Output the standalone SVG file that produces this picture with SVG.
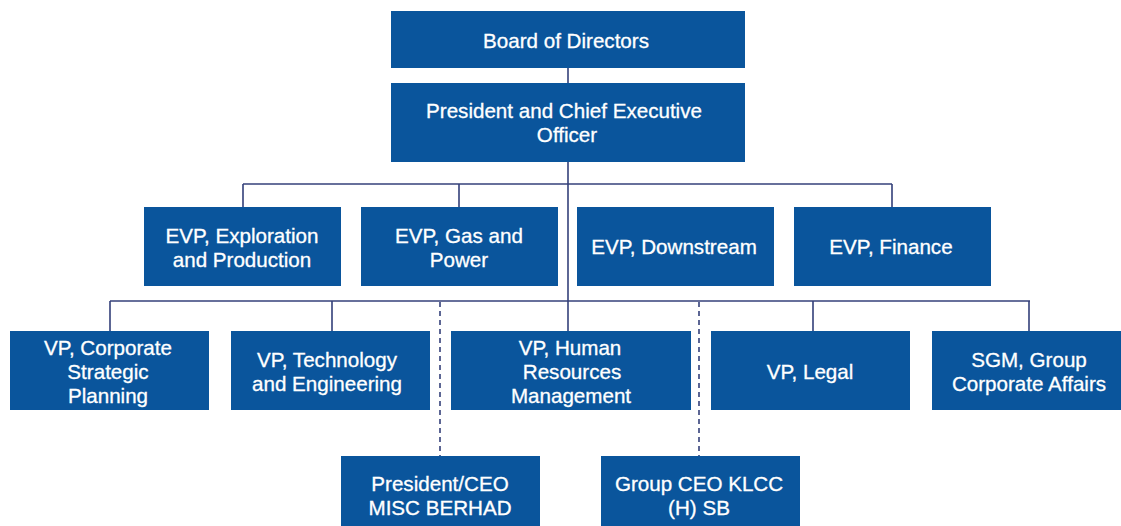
<svg xmlns="http://www.w3.org/2000/svg" width="1121" height="526" viewBox="0 0 1121 526">
  <style>
    .box { fill: #0a559c; }
    .lbl { fill: #ffffff; stroke: #ffffff; stroke-width: 0.3; font-family: "Liberation Sans", Arial, sans-serif; font-size: 20.6px; text-anchor: middle; }
    .ln { stroke: #34407a; stroke-width: 1.6; fill: none; }
    .dash { stroke: #34407a; stroke-width: 1.6; fill: none; stroke-dasharray: 5 4; }
  </style>
  <rect width="1121" height="526" fill="#ffffff"/>

  <g id="connectors">
    <path class="ln" d="M568 68 V83"/>
    <path class="ln" d="M568 162 V331"/>
    <path class="ln" d="M243 184 H892"/>
    <path class="ln" d="M243 184 V207 M459 184 V207 M892 184 V207"/>
    <path class="ln" d="M110 301 H1030"/>
    <path class="ln" d="M110 301 V331 M332 301 V331 M813 301 V331 M1029 301 V331"/>
    <path class="dash" d="M440 302 V456"/>
    <path class="dash" d="M699 302 V456"/>
  </g>

  <g id="board">
    <rect class="box" x="391" y="11" width="354" height="57"/>
    <text class="lbl" x="566" y="47.5">Board of Directors</text>
  </g>
  <g id="ceo">
    <rect class="box" x="391" y="83" width="354" height="79"/>
    <text class="lbl" x="564" y="118">President and Chief Executive</text>
    <text class="lbl" x="567" y="142">Officer</text>
  </g>

  <g id="evp-ep">
    <rect class="box" x="144" y="207" width="197" height="79"/>
    <text class="lbl" x="242" y="243">EVP, Exploration</text>
    <text class="lbl" x="242" y="267">and Production</text>
  </g>
  <g id="evp-gp">
    <rect class="box" x="361" y="207" width="197" height="79"/>
    <text class="lbl" x="459" y="243">EVP, Gas and</text>
    <text class="lbl" x="459" y="267">Power</text>
  </g>
  <g id="evp-ds">
    <rect class="box" x="577" y="207" width="197" height="79"/>
    <text class="lbl" x="674" y="254">EVP, Downstream</text>
  </g>
  <g id="evp-fin">
    <rect class="box" x="794" y="207" width="197" height="79"/>
    <text class="lbl" x="891" y="254">EVP, Finance</text>
  </g>

  <g id="vp-csp">
    <rect class="box" x="10" y="331" width="199" height="79"/>
    <text class="lbl" x="108" y="355">VP, Corporate</text>
    <text class="lbl" x="108" y="379">Strategic</text>
    <text class="lbl" x="108" y="403">Planning</text>
  </g>
  <g id="vp-te">
    <rect class="box" x="231" y="331" width="199" height="79"/>
    <text class="lbl" x="327" y="367">VP, Technology</text>
    <text class="lbl" x="327" y="391">and Engineering</text>
  </g>
  <g id="vp-hr">
    <rect class="box" x="451" y="331" width="240" height="79"/>
    <text class="lbl" x="570" y="355">VP, Human</text>
    <text class="lbl" x="572" y="379">Resources</text>
    <text class="lbl" x="571" y="403">Management</text>
  </g>
  <g id="vp-legal">
    <rect class="box" x="711" y="331" width="199" height="79"/>
    <text class="lbl" x="810" y="379">VP, Legal</text>
  </g>
  <g id="sgm-gca">
    <rect class="box" x="932" y="331" width="199" height="79"/>
    <text class="lbl" x="1029" y="367">SGM, Group</text>
    <text class="lbl" x="1029" y="391">Corporate Affairs</text>
  </g>

  <g id="misc">
    <rect class="box" x="341" y="456" width="199" height="79"/>
    <text class="lbl" x="440" y="491">President/CEO</text>
    <text class="lbl" x="440" y="515">MISC BERHAD</text>
  </g>
  <g id="klcc">
    <rect class="box" x="601" y="456" width="199" height="79"/>
    <text class="lbl" x="699" y="491">Group CEO KLCC</text>
    <text class="lbl" x="699" y="515">(H) SB</text>
  </g>
</svg>
